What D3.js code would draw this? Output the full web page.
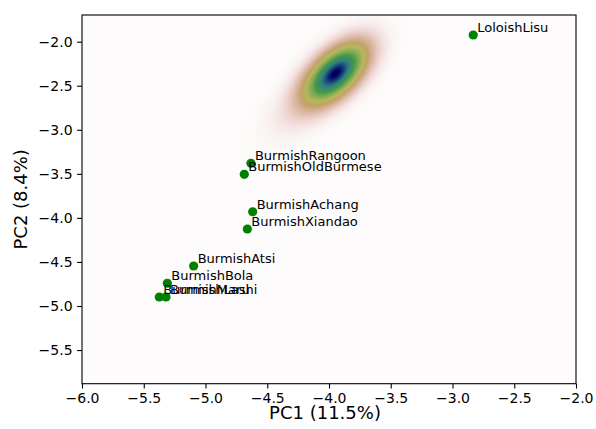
<!DOCTYPE html>
<html>
<head>
<meta charset="utf-8">
<script src="https://cdn.jsdelivr.net/npm/d3@7"></script>
<style>
  html, body { margin: 0; padding: 0; background: #ffffff; }
  svg { display: block; font-family: "DejaVu Sans", sans-serif; }
</style>
</head>
<body>
<svg id="chart" width="596" height="429"></svg>
<script>
// ---- data ----
const populations = ["LoloishLisu", "BurmishRangoon", "BurmishOldBurmese", "BurmishAchang",
  "BurmishXiandao", "BurmishAtsi", "BurmishBola", "BurmishLashi", "BurmishMaru"];
const pc1Values = [-2.832, -4.632, -4.686, -4.618, -4.661, -5.096, -5.309, -5.320, -5.374];
const pc2Values = [-1.924, -3.380, -3.505, -3.930, -4.126, -4.546, -4.742, -4.898, -4.898];

// density cloud (Gaussian components: centre, spread, correlation, peak)
const densityCenterPC1 = [-3.946, -3.946, -4.073];
const densityCenterPC2 = [-2.359, -2.359, -2.526];
const densitySdPC1 = [0.1515, 0.0535, 0.221];
const densitySdPC2 = [0.204, 0.0723, 0.295];
const densityRho = [0.571, 0.519, 0.724];
const densityPeak = [0.9, 0.1, 0.08];

const xTicks = [-6.0, -5.5, -5.0, -4.5, -4.0, -3.5, -3.0, -2.5, -2.0];
const yTicks = [-5.5, -5.0, -4.5, -4.0, -3.5, -3.0, -2.5, -2.0];
const xLabel = "PC1 (11.5%)";
const yLabel = "PC2 (8.4%)";

// gist_earth colormap segment data (matplotlib)
const gistRed = [[0.0,0.0],[0.2824,0.1882],[0.4588,0.2714],[0.5490,0.4719],[0.6980,0.7176],[0.7882,0.7553],[1.0,0.9922]];
const gistGreen = [[0.0,0.0],[0.0275,0.0],[0.1098,0.1893],[0.1647,0.3035],[0.2078,0.3841],[0.2824,0.5020],[0.5216,0.6397],[0.6980,0.7171],[0.7882,0.6392],[0.7922,0.6413],[0.8000,0.6447],[0.8078,0.6481],[0.8157,0.6549],[0.8667,0.6991],[0.8745,0.7103],[0.8824,0.7216],[0.8902,0.7323],[0.8980,0.7430],[0.9412,0.8275],[0.9569,0.8635],[0.9647,0.8816],[0.9961,0.9733],[1.0,0.9843]];
const gistBlue = [[0.0,0.0],[0.0039,0.1684],[0.0078,0.2212],[0.0275,0.4329],[0.0314,0.4549],[0.2824,0.5004],[0.4667,0.2748],[0.5451,0.3205],[0.7843,0.3961],[0.8941,0.6651],[1.0,0.9843]];

function seg(table, t) {
  for (let i = 1; i < table.length; i++) {
    if (t <= table[i][0]) {
      const a = table[i-1], b = table[i];
      const f = (t - a[0]) / (b[0] - a[0]);
      return a[1] + f * (b[1] - a[1]);
    }
  }
  return table[table.length-1][1];
}
function gistEarthR(v) { // reversed
  const t = Math.max(0, Math.min(1, 1 - v));
  return [seg(gistRed, t) * 255, seg(gistGreen, t) * 255, seg(gistBlue, t) * 255];
}

// ---- layout ----
const pL = 82, pR = 576, pT = 15, pB = 383.7;
const x = d3.scaleLinear().domain([-6, -2]).range([pL, pR]);
const y = d3.scaleLinear().domain([-5.882, -1.697]).range([pB, pT]);

const svg = d3.select("#chart");

// density raster
const cw = Math.round(pR - pL), ch = Math.round(pB - pT);
const canvas = document.createElement("canvas");
canvas.width = cw; canvas.height = ch;
const ctx = canvas.getContext("2d");
const img = ctx.createImageData(cw, ch);
const vals = new Float32Array(cw * ch);
let vmax = 0;
for (let j = 0; j < ch; j++) {
  const py = y.invert(pT + j + 0.5);
  for (let i = 0; i < cw; i++) {
    const px = x.invert(pL + i + 0.5);
    let s = 0;
    for (let k = 0; k < densityPeak.length; k++) {
      const u = (px - densityCenterPC1[k]) / densitySdPC1[k];
      const w = (py - densityCenterPC2[k]) / densitySdPC2[k];
      const r = densityRho[k];
      const z = (u*u - 2*r*u*w + w*w) / (2 * (1 - r*r));
      s += densityPeak[k] * Math.exp(-z);
    }
    vals[j*cw + i] = s;
    if (s > vmax) vmax = s;
  }
}
for (let p = 0; p < cw * ch; p++) {
  const c = gistEarthR(vals[p] / vmax);
  img.data[p*4] = c[0]; img.data[p*4+1] = c[1]; img.data[p*4+2] = c[2]; img.data[p*4+3] = 255;
}
ctx.putImageData(img, 0, 0);
svg.append("image")
  .attr("x", pL).attr("y", pT)
  .attr("width", cw).attr("height", ch)
  .attr("preserveAspectRatio", "none")
  .attr("href", canvas.toDataURL());

// axes
const fmt = d3.format(".1f");
const xAxis = svg.append("g")
  .attr("transform", `translate(0,${pB})`)
  .call(d3.axisBottom(x).tickValues(xTicks).tickFormat(fmt).tickSize(4.9).tickPadding(4.5));
const yAxis = svg.append("g")
  .attr("transform", `translate(${pL},0)`)
  .call(d3.axisLeft(y).tickValues(yTicks).tickFormat(fmt).tickSize(4.9).tickPadding(4.5));
[xAxis, yAxis].forEach(g => {
  g.select(".domain").remove();
  g.selectAll(".tick line").attr("stroke", "#000").attr("stroke-width", 1.1);
  g.selectAll(".tick text").attr("fill", "#000")
    .style("font-family", "'DejaVu Sans', sans-serif").style("font-size", "14px");
});

// frame
svg.append("rect")
  .attr("x", pL).attr("y", pT)
  .attr("width", pR - pL).attr("height", pB - pT)
  .attr("fill", "none").attr("stroke", "#000").attr("stroke-width", 1.1);

// points
const pts = populations.map((n, i) => ({ name: n, pc1: pc1Values[i], pc2: pc2Values[i] }));
svg.append("g").selectAll("circle").data(pts).join("circle")
  .attr("cx", d => x(d.pc1)).attr("cy", d => y(d.pc2))
  .attr("r", 4.6).attr("fill", "#008000");

svg.append("g").selectAll("text").data(pts).join("text")
  .attr("x", d => x(d.pc1) + 4)
  .attr("y", d => y(d.pc2) - 3.2)
  .attr("font-size", "13px").attr("fill", "#000")
  .text(d => d.name);

// axis labels
svg.append("text")
  .attr("x", 325).attr("y", 418.5)
  .attr("text-anchor", "middle").attr("font-size", "18px").attr("fill", "#000")
  .text(xLabel);
svg.append("text")
  .attr("transform", `translate(27,${(pT + pB) / 2}) rotate(-90)`)
  .attr("text-anchor", "middle").attr("font-size", "18px").attr("fill", "#000")
  .text(yLabel);
</script>
</body>
</html>
